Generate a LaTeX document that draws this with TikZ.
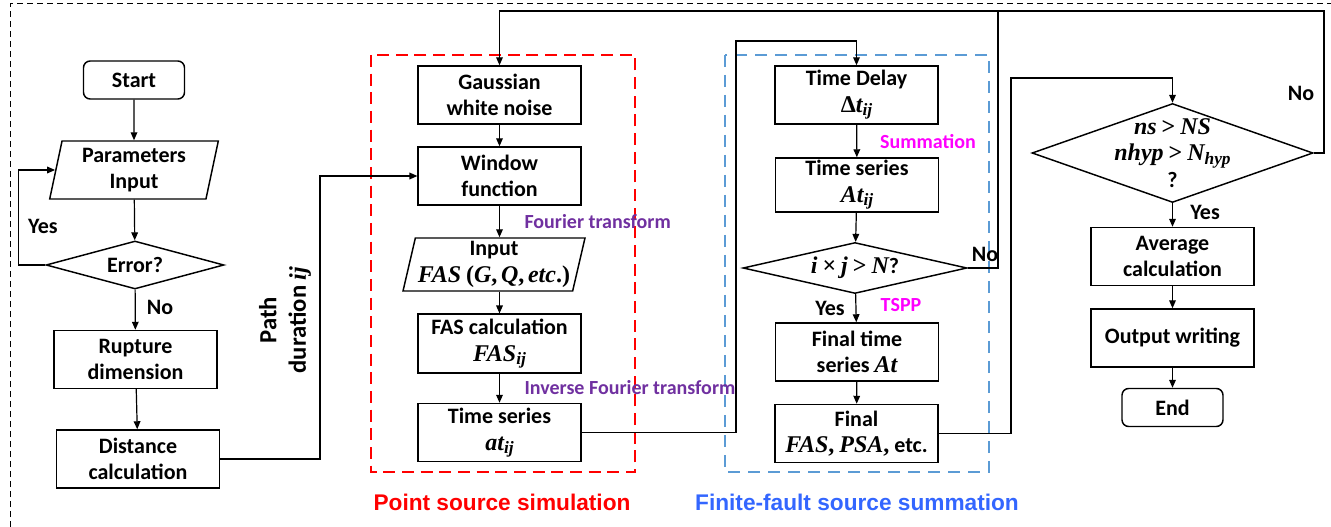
\documentclass[tikz,border=0pt]{standalone}
\usepackage{fontspec}
\setmainfont{Carlito}
\newfontfamily\arialfont{Liberation Sans}
\newfontfamily\mathserif{Liberation Serif}
\usepackage{tikz}
\usetikzlibrary{
  shapes.geometric,
  arrows.meta,
  positioning
}
\definecolor{secred}{RGB}{255,0,0}
\definecolor{secblue}{RGB}{91,155,213}
\definecolor{capblue}{RGB}{51,102,255}
\definecolor{trpurple}{RGB}{112,48,160}
\definecolor{summagenta}{RGB}{255,0,255}
\newcommand{\boxfont}{\fontsize{16.5}{20}\selectfont\bfseries}
\newcommand{\pathfont}{\fontsize{18.5}{22}\selectfont\bfseries}
\newcommand{\notefont}{\fontsize{15}{17}\selectfont\bfseries}
\newcommand{\capfont}{\arialfont\fontsize{17}{20}\selectfont\bfseries}
% bold italic variables, set like the equation font
\newcommand{\mv}[1]{{\mathserif\fontsize{18}{20}\selectfont\bfseries\itshape #1}}
\newcommand{\mo}[1]{{\mathserif\fontsize{18}{20}\selectfont\bfseries #1}}
\newcommand{\sub}[1]{\raisebox{-0.3ex}{\mathserif\fontsize{13}{13}\selectfont\bfseries\itshape #1}}
\tikzset{every picture/.style={line width=0.75pt}}
\tikzset{
  procbox/.style={draw, line width=1.1pt, minimum width=122pt, minimum height=43.5pt,
    align=center, inner sep=1pt, font=\boxfont},
  termbox/.style={procbox, rounded corners=5pt, minimum width=75.75pt, minimum height=28.5pt},
  iobox/.style={draw, line width=1.1pt, trapezium, trapezium stretches=true,
    align=center, inner sep=1pt, font=\boxfont},
  decision/.style={draw, line width=1.1pt, diamond, inner sep=0pt},
  flow/.style={line width=0.9pt, -{Triangle[length=6pt,width=5pt]}},
  link/.style={line width=0.9pt},
  answer/.style={font=\boxfont},
  transnote/.style={font=\notefont, text=trpurple, anchor=west, inner sep=0pt},
  sumnote/.style={font=\notefont, text=summagenta, inner sep=0pt}
}

\begin{document}
\begin{tikzpicture}[x=0.75pt,y=0.75pt,yscale=-1,xscale=1]
\useasboundingbox (0,0) rectangle (1331,527);

%Outer frame
\draw [dash pattern={on 4.5pt off 3pt}] (10,527) -- (10,4) -- (1331,4) ;
%Section frames
\draw [color=secred, line width=2pt, dash pattern={on 9pt off 5pt}] (371,55) rectangle (635,472) ;
\draw [color=secblue, line width=1.8pt, dash pattern={on 9pt off 6pt}] (725,55) rectangle (989,472) ;

%Left column
\node [termbox] (start) at (134,80) {Start};
\node [iobox, trapezium left angle=79, trapezium right angle=101,
  minimum width=127.5pt, minimum height=43.5pt] (params) at (134,170) {Parameters\\Input};
\node [decision, minimum width=133.5pt, minimum height=36pt,
  label={[font=\boxfont]center:Error?}] (error) at (135,265) {};
\node [procbox] (rupture) at (135.5,359.5) {Rupture\\dimension};
\node [procbox] (distance) at (138,459) {Distance\\calculation};

%Point source column
\node [procbox] (gauss) at (499.5,95) {Gaussian\\white noise};
\node [procbox] (window) at (499.5,176) {Window\\function};
\node [iobox, trapezium left angle=76, trapezium right angle=104,
  minimum width=136.5pt, minimum height=39.75pt] (inputfas) at (494,264.5)
  {Input\\\mv{FAS} \mo{(}\mv{G}\mo{,}\,\mv{Q}\mo{,}\,\mv{etc}\mo{.)}};
\node [procbox, minimum height=44pt] (fascalc) at (499.5,343.5) {FAS calculation\\\mv{FAS}\sub{ij}};
\node [procbox] (atij) at (499.5,432.5) {Time series\\\mv{at}\sub{ij}};

%Finite-fault column
\node [procbox] (delay) at (856.5,95) {Time Delay\\\mo{Δ}\mv{t}\sub{ij}};
\node [procbox, minimum height=40.5pt] (atsum) at (857,185) {Time series\\\mv{At}\sub{ij}};
\node [decision, minimum width=168pt, minimum height=38.25pt,
  label={[font=\boxfont]center:\mv{i} \mo{×} \mv{j} \mo{>} \mv{N}?}] (ijdia) at (855,268) {};
\node [procbox] (final) at (857,352) {Final time\\series \mv{At}};
\node [procbox] (finalfas) at (856.5,433.5) {Final\\\mv{FAS}\mo{,} \mv{PSA}\mo{,} etc.};

%Right column
\node [decision, minimum width=210.75pt, minimum height=74.25pt,
  label={[font=\boxfont, align=center]center:\mv{ns} \mo{>} \mv{NS}\\\mv{nhyp} \mo{>} \mv{N}\sub{hyp}\\?}] (nsdia) at (1172.5,153) {};
\node [procbox] (avg) at (1172.5,256.5) {Average\\calculation};
\node [procbox] (output) at (1172.5,338) {Output writing};
\node [termbox] (end) at (1172.5,407.5) {End};

%Straight Lines
\draw [flow] (start) -- (params);
\draw [flow] (params) -- (error);
\draw [flow] (error.west) -- ++(-27,0) |- (params.west);
\draw [flow] (error) -- (rupture);
\draw [flow] (rupture) -- (distance);
\draw [flow] (distance.east) -- ++(100,0) |- (window.west);
\draw [flow] (gauss) -- (window);
\draw [flow] (window) -- (window |- inputfas.north);
\draw [flow] (inputfas.south -| fascalc) -- (fascalc);
\draw [flow] (fascalc) -- (atij);
\draw [flow] (atij.east) -| (736,41) -| (delay.north);
\draw [flow] (delay) -- (atsum);
\draw [flow] (atsum) -- (ijdia);
\draw [flow] (ijdia) -- (final);
\draw [flow] (final) -- (finalfas);
\draw [flow] (ijdia.east) -| (998,11) -| (gauss.north);
\draw [flow] (finalfas.east) -| (1011,78) -| (nsdia.north);
\draw [link] (nsdia.east) -| (1324,11) -- (998,11);
\draw [flow] (nsdia) -- (avg);
\draw [flow] (avg) -- (output);
\draw [flow] (output) -- (end);

% Text Node
\node [answer] (erryes) at (43,226) {Yes};
\node [answer] (errno) at (160,307) {No};
\node [answer] (ijyes) at (830,308) {Yes};
\node [answer] (ijno) at (985,254) {No};
\node [answer] (nsyes) at (1205,212) {Yes};
\node [answer] (nsno) at (1301,93) {No};
\node [font=\pathfont, rotate=90, align=center] (pathlbl) at (285,320) {Path\\duration \mv{ij}};
\node [transnote] (fourier) at (524,222) {Fourier transform};
\node [transnote] (invfourier) at (524,388) {Inverse Fourier transform};
\node [sumnote] (summ) at (928,142) {Summation};
\node [sumnote] (tspp) at (901,305) {TSPP};
\node [font=\capfont, text=secred] (pointcap) at (502,502) {Point source simulation};
\node [font=\capfont, text=capblue] (finitecap) at (857,502) {Finite-fault source summation};

\end{tikzpicture}
\end{document}
